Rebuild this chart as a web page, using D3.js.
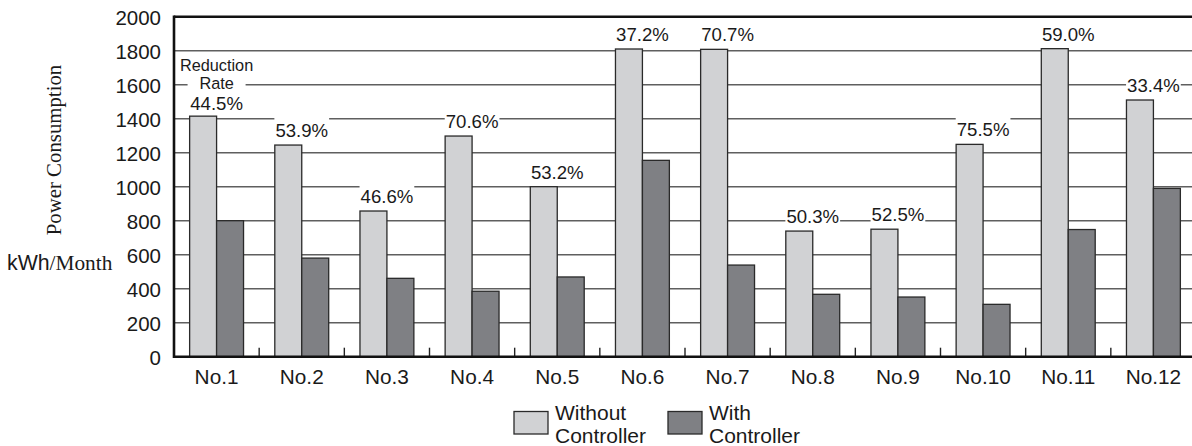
<!DOCTYPE html>
<html>
<head>
<meta charset="utf-8">
<script src="https://cdn.jsdelivr.net/npm/d3@7"></script>
<style>
  html, body { margin: 0; padding: 0; background: #fff; }
  svg { display: block; }
  text { font-family: "Liberation Sans", Arial, Helvetica, sans-serif; fill: #1a1a1a; }
  .serif { font-family: "Liberation Serif", "Times New Roman", serif; }
</style>
</head>
<body>
<svg id="chart" width="1192" height="446"></svg>
<script>
// Monthly power consumption per site, with and without the controller
const categories = ["No.1", "No.2", "No.3", "No.4", "No.5", "No.6", "No.7", "No.8", "No.9", "No.10", "No.11", "No.12"];
const withoutController = [1415, 1245, 857, 1298, 1000, 1810, 1808, 739, 750, 1249, 1812, 1510];
const withController = [800, 580, 461, 385, 469, 1155, 539, 367, 351, 308, 748, 990];
const reductionRates = ["44.5%", "53.9%", "46.6%", "70.6%", "53.2%", "37.2%", "70.7%", "50.3%", "52.5%", "75.5%", "59.0%", "33.4%"];
const yTicks = [0, 200, 400, 600, 800, 1000, 1200, 1400, 1600, 1800, 2000];
const seriesNames = ["Without", "With"];

const svg = d3.select("#chart");
const plotLeft = 174, plotRight = 1196, plotTop = 16.7, plotBottom = 356.7;

const x = d3.scaleBand().domain(categories).range([plotLeft, plotRight]).padding(0);
const xInner = d3.scaleBand().domain(seriesNames).range([0, x.bandwidth()]).paddingInner(0).paddingOuter(0.58);
const y = d3.scaleLinear().domain([0, 2000]).range([plotBottom, plotTop]);

const fills = { Without: "#d1d2d4", With: "#7f8084" };

// horizontal gridlines
svg.append("g")
  .selectAll("line")
  .data(yTicks.filter(t => t > 0 && t < 2000))
  .join("line")
  .attr("x1", plotLeft).attr("x2", plotRight)
  .attr("y1", d => y(d)).attr("y2", d => y(d))
  .attr("stroke", "#5f5f5f").attr("stroke-width", 1.4);

// small ticks between groups on the baseline
svg.append("g")
  .selectAll("line")
  .data(categories.slice(1))
  .join("line")
  .attr("x1", d => x(d)).attr("x2", d => x(d))
  .attr("y1", plotBottom).attr("y2", plotBottom - 9)
  .attr("stroke", "#222").attr("stroke-width", 1.4);

// bars
const groups = svg.append("g")
  .selectAll("g")
  .data(categories.map((c, i) => ({ c, vals: [
    { k: "Without", v: withoutController[i] },
    { k: "With", v: withController[i] }
  ] })))
  .join("g")
  .attr("transform", d => `translate(${x(d.c)},0)`);

groups.selectAll("rect")
  .data(d => d.vals)
  .join("rect")
  .attr("x", d => xInner(d.k))
  .attr("width", xInner.bandwidth())
  .attr("y", d => y(d.v))
  .attr("height", d => y(0) - y(d.v))
  .attr("fill", d => fills[d.k])
  .attr("stroke", "#2a2a2a").attr("stroke-width", 1.3);

// reduction-rate labels with a white backing that cuts the gridlines
const labelSize = 18.6;
const labels = svg.append("g");
categories.forEach((c, i) => {
  const cx = x(c) + x.bandwidth() / 2;
  const base = y(withoutController[i]) - (i === 0 ? 6 : 8);
  const t = labels.append("text")
    .attr("x", cx).attr("y", base)
    .attr("text-anchor", "middle")
    .attr("font-size", labelSize)
    .text(reductionRates[i]);
  const w = t.node().getComputedTextLength();
  labels.insert("rect", "text")
    .attr("x", cx - w / 2 - 1).attr("y", base - 20)
    .attr("width", w + 2).attr("height", 23)
    .attr("fill", "#fff");
});

// "Reduction Rate" caption above the first group
const c0 = x(categories[0]) + x.bandwidth() / 2;
svg.append("rect").attr("x", c0 - 29).attr("y", 75).attr("width", 58).attr("height", 17).attr("fill", "#fff");
svg.append("text").attr("x", c0).attr("y", 71).attr("text-anchor", "middle").attr("font-size", 16.3).text("Reduction");
svg.append("text").attr("x", c0).attr("y", 89).attr("text-anchor", "middle").attr("font-size", 16.3).text("Rate");

// frame: top, left and bottom
svg.append("line").attr("x1", plotLeft).attr("x2", plotRight).attr("y1", plotTop).attr("y2", plotTop).attr("stroke", "#111").attr("stroke-width", 2.6);
svg.append("line").attr("x1", plotLeft).attr("x2", plotLeft).attr("y1", plotTop - 1.3).attr("y2", plotBottom + 1.3).attr("stroke", "#111").attr("stroke-width", 2.6);
svg.append("line").attr("x1", plotLeft).attr("x2", plotRight).attr("y1", plotBottom).attr("y2", plotBottom).attr("stroke", "#111").attr("stroke-width", 2.6);

// y axis labels
const yAxis = d3.axisLeft(y).tickValues(yTicks).tickSize(0).tickPadding(13).tickFormat(d3.format("d"));
const yg = svg.append("g").attr("transform", `translate(${plotLeft},0)`).call(yAxis);
yg.select(".domain").remove();
yg.selectAll("text").attr("font-size", 20.5).attr("font-family", "Liberation Sans, Arial, sans-serif").attr("fill", "#1a1a1a").attr("dy", "0.36em");

// x axis labels
const xAxis = d3.axisBottom(x).tickSize(0).tickPadding(0);
const xg = svg.append("g").attr("transform", `translate(0,${plotBottom})`).call(xAxis);
xg.select(".domain").remove();
xg.selectAll("text").attr("font-size", 20.8).attr("font-family", "Liberation Sans, Arial, sans-serif").attr("fill", "#1a1a1a").attr("y", 27).attr("dy", 0);

// axis titles
svg.append("text").attr("class", "serif")
  .attr("transform", "translate(61,150) rotate(-90)")
  .attr("text-anchor", "middle").attr("font-size", 20.8)
  .text("Power Consumption");
const unit = svg.append("text").attr("x", 7).attr("y", 270).attr("font-size", 21.3);
unit.append("tspan").text("kWh");
unit.append("tspan").attr("class", "serif").attr("font-family", "Liberation Serif, Times New Roman, serif").text("/Month");

// legend
const legend = svg.append("g");
const legendItems = [
  { k: "Without", x: 514, lines: ["Without", "Controller"] },
  { k: "With", x: 668, lines: ["With", "Controller"] }
];
legendItems.forEach(d => {
  legend.append("rect").attr("x", d.x).attr("y", 411.5).attr("width", 34).attr("height", 22.5)
    .attr("fill", fills[d.k]).attr("stroke", "#2a2a2a").attr("stroke-width", 1.3);
  d.lines.forEach((s, j) => {
    legend.append("text").attr("x", d.x + 41).attr("y", 419.5 + j * 23).attr("font-size", 21).text(s);
  });
});
</script>
</body>
</html>
